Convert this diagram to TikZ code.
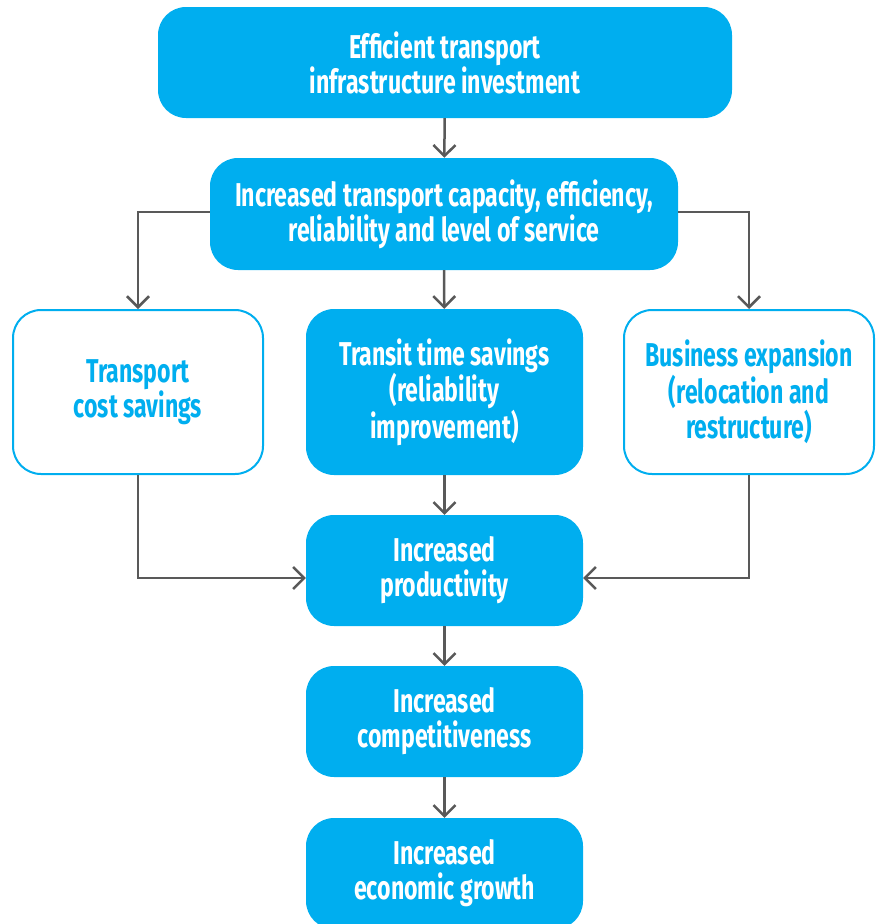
\documentclass[tikz,border=0pt]{standalone}
\usepackage{fontspec}
\setmainfont{Fira Sans}[FakeStretch=0.7]
\usetikzlibrary{arrows.meta}
\definecolor{brandcyan}{HTML}{00AEEF}
\definecolor{linkgray}{HTML}{595959}
\tikzset{
  x=1pt, y=-1pt,
  box/.style={rounded corners=28pt, inner sep=0pt, align=center,
    font=\fontsize{33}{35}\selectfont\bfseries},
  solidbox/.style={box, fill=brandcyan, text=white},
  openbox/.style={box, draw=brandcyan, line width=2pt, fill=white, text=brandcyan},
  link/.style={draw=linkgray, line width=2.5pt,
    -{Straight Barb[length=11pt,width=22pt,line width=2.5pt]}},
}
\begin{document}
\begin{tikzpicture}
\useasboundingbox (0,0) rectangle (877,924);
\begin{scope}
\clip (0,0) rectangle (877,924);
\node[solidbox, minimum width=574pt, minimum height=111pt] (invest) at (445,62.5)
  {Efficient transport\\infrastructure investment};
\node[solidbox, minimum width=468pt, minimum height=112pt] (capacity) at (444,214)
  {Increased transport capacity, efficiency,\\reliability and level of service};
\node[openbox, minimum width=250pt, minimum height=164pt] (cost) at (138,392)
  {Transport\\cost savings};
\node[solidbox, minimum width=277pt, minimum height=166pt] (transit) at (444.5,392)
  {Transit time savings\\(reliability\\improvement)};
\node[openbox, minimum width=250pt, minimum height=164pt] (business) at (749,392)
  {Business expansion\\(relocation and\\restructure)};
\node[solidbox, minimum width=277pt, minimum height=111pt] (prod) at (444.5,570.5)
  {Increased\\productivity};
\node[solidbox, minimum width=277pt, minimum height=111pt] (compet) at (444.5,721.5)
  {Increased\\competitiveness};
\node[solidbox, minimum width=277pt, minimum height=111pt] (growth) at (444.5,873.5)
  {Increased\\economic growth};

\draw[link] (invest) -- (capacity);
\draw[link] (capacity.west |- 0,212) -| (cost.north);
\draw[link] (capacity.east |- 0,212) -| (business.north);
\draw[link] (capacity) -- (transit);
\draw[link] (cost.south) |- (prod.west |- 0,578);
\draw[link] (business.south) |- (prod.east |- 0,578);
\draw[link] (transit) -- (prod);
\draw[link] (prod) -- (compet);
\draw[link] (compet) -- (growth);
\end{scope}
\end{tikzpicture}
\end{document}
